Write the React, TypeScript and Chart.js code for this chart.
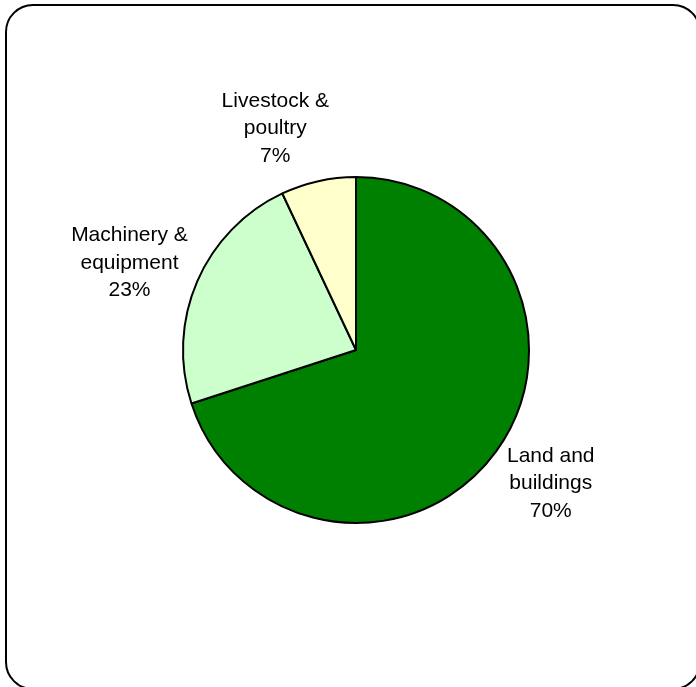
import React, { useEffect, useRef } from "react";
import { Chart, registerables } from "chart.js";

Chart.register(...registerables);

const categories = ["Land and buildings", "Machinery & equipment", "Livestock & poultry"];
const shares = [70, 23, 7];
const sliceColors = ["#008000", "#CCFFCC", "#FFFFCC"];

const labelPlugin = {
  id: "outsideLabels",
  afterDraw(chart: any, _args: any, opts: any) {
    const ctx = chart.ctx;
    const meta = chart.getDatasetMeta(0);
    const data = chart.data.datasets[0].data as number[];
    const total = data.reduce((a: number, b: number) => a + b, 0);
    ctx.save();
    ctx.fillStyle = "#000";
    ctx.font = '21px "Liberation Sans", Arial, sans-serif';
    ctx.textAlign = "center";
    ctx.textBaseline = "middle";
    meta.data.forEach((arc: any, i: number) => {
      const p = arc.getProps(["x", "y", "startAngle", "endAngle", "outerRadius"], true);
      const mid = (p.startAngle + p.endAngle) / 2;
      const d = p.outerRadius * 1.37;
      const nudge = opts.nudges[i] || [0, 0];
      const cx = p.x + Math.cos(mid) * d + nudge[0];
      const cy = p.y + Math.sin(mid) * d + nudge[1];
      const name = String(chart.data.labels[i]);
      const k = name.lastIndexOf(" ");
      const lines = [name.slice(0, k), name.slice(k + 1), Math.round((data[i] / total) * 100) + "%"];
      const lh = 27.5;
      lines.forEach((t, j) => {
        ctx.fillText(t, cx, cy + (j - (lines.length - 1) / 2) * lh);
      });
    });
    ctx.restore();
  },
};

export default function App() {
  const ref = useRef<HTMLCanvasElement | null>(null);
  useEffect(() => {
    if (!ref.current) return;
    const chart = new Chart(ref.current, {
      type: "pie",
      data: {
        labels: categories,
        datasets: [
          {
            data: shares,
            backgroundColor: sliceColors,
            borderColor: "#000",
            borderWidth: 2,
          },
        ],
      },
      options: {
        animation: false,
        responsive: false,
        devicePixelRatio: 1,
        layout: { padding: { left: 182, right: 166, top: 176, bottom: 163 } },
        plugins: {
          legend: { display: false },
          tooltip: { enabled: false },
          outsideLabels: { nudges: [[3, -6], [-9, 7], [-29, 10]] },
        } as any,
      },
      plugins: [labelPlugin as any],
    });
    return () => chart.destroy();
  }, []);
  return (
    <div
      style={{
        position: "fixed",
        left: 0,
        top: 0,
        width: 696,
        height: 687,
        overflow: "hidden",
        background: "#fff",
      }}
    >
      <div
        style={{
          position: "absolute",
          left: 5,
          top: 4,
          width: 696,
          height: 686,
          boxSizing: "border-box",
          border: "2px solid #000",
          borderRadius: 28,
        }}
      />
      <canvas
        ref={ref}
        width={696}
        height={687}
        style={{ position: "absolute", left: 0, top: 0, width: 696, height: 687 }}
      />
    </div>
  );
}
